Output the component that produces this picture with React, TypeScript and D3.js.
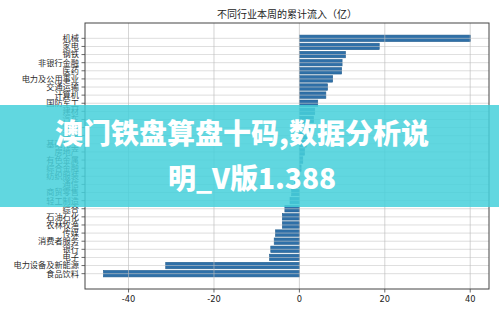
import React from "react";
import * as d3 from "d3";

const categories = [
  "机械", "家电", "钢铁", "非银行金融", "医药", "电力及公用事业", "交通运输", "计算机",
  "国防军工", "建材", "汽车", "煤炭", "建筑", "基础化工", "房地产", "有色金属",
  "综合金融", "纺织服装", "通信", "商贸零售", "轻工制造", "综合", "石油石化", "农林牧渔",
  "传媒", "消费者服务", "银行", "电子", "电力设备及新能源", "食品饮料",
];
const values = [
  40.1, 18.7, 10.8, 10.0, 9.9, 7.8, 6.6, 6.2,
  4.3, 3.6, 3.3, 2.6, 2.1, 1.6, 1.2, 0.8,
  0.4, -0.3, -1.2, -1.8, -2.2, -3.4, -4.0, -4.0,
  -5.6, -5.9, -6.7, -7.0, -31.3, -45.9,
];
const xTicks = [-40, -20, 0, 20, 40];
const title = "不同行业本周的累计流入（亿）";
const bannerLines = ["澳门铁盘算盘十码,数据分析说", "明_V版1.388"];

const W = 499, H = 312;
const L = 85, R = 489, T = 23, B = 289;

export default function App() {
  const minV = d3.min(values)!, maxV = d3.max(values)!;
  const xm = (maxV - minV) * 0.05;
  const x = d3.scaleLinear().domain([minV - xm, maxV + xm]).range([L, R]);
  const n = categories.length;
  const ym = (n - 1 + 0.8) * 0.05;
  const y = d3.scaleLinear().domain([-0.4 - ym, n - 1 + 0.4 + ym]).range([T, B]);
  const bh = y(0.8) - y(0);
  const cjk = "'Noto Sans CJK SC', 'Noto Sans', sans-serif";
  return (
    <svg width={W} height={H} style={{ position: "absolute", left: 0, top: 0, background: "#fff" }}>
      <rect x={0} y={0} width={W} height={H} fill="#fff" />
      <text x={(L + R) / 2} y={18} textAnchor="middle" fontSize={10} fontFamily={cjk} fill="#222">{title}</text>
      {values.map((v, i) => (
        <rect key={i} x={x(Math.min(0, v))} y={y(i) - bh / 2} width={Math.abs(x(v) - x(0))} height={bh}
          fill="#2f70a8" stroke="#26608f" strokeWidth={0.6} />
      ))}
      {categories.map((c, i) => (
        <line key={"hg" + i} x1={L} x2={R} y1={y(i)} y2={y(i)} stroke="#c8c8c8" strokeWidth={0.8} opacity={0.75} />
      ))}
      {xTicks.map((t) => (
        <line key={"vg" + t} x1={x(t)} x2={x(t)} y1={T} y2={B} stroke="#bdbdbd" strokeWidth={0.8} opacity={0.8} />
      ))}
      <rect x={L} y={T} width={R - L} height={B - T} fill="none" stroke="#444" strokeWidth={1} />
      {categories.map((c, i) => (
        <g key={"yl" + i}>
          <line x1={L - 3.5} x2={L} y1={y(i)} y2={y(i)} stroke="#444" strokeWidth={0.8} />
          <text x={L - 6} y={y(i)} dy="0.35em" textAnchor="end" fontSize={8.2} fontFamily={cjk} fill="#2a2a2a">{c}</text>
        </g>
      ))}
      {xTicks.map((t) => (
        <g key={"xl" + t}>
          <line x1={x(t)} x2={x(t)} y1={B} y2={B + 3.5} stroke="#444" strokeWidth={0.8} />
          <text x={x(t)} y={B + 13} textAnchor="middle" fontSize={8.3} fontFamily="'DejaVu Sans', sans-serif" fill="#222">{t}</text>
        </g>
      ))}
      <rect x={0} y={105} width={W} height={102} fill="#45d0da" opacity={0.85} />
      <text x={242} y={144} textAnchor="middle" fontSize={28} fontWeight={900} fontFamily={cjk} fill="#fff">{bannerLines[0]}</text>
      <text x={252} y={189} textAnchor="middle" fontSize={28} fontWeight={900} fontFamily={cjk} fill="#fff">{bannerLines[1]}</text>
    </svg>
  );
}
